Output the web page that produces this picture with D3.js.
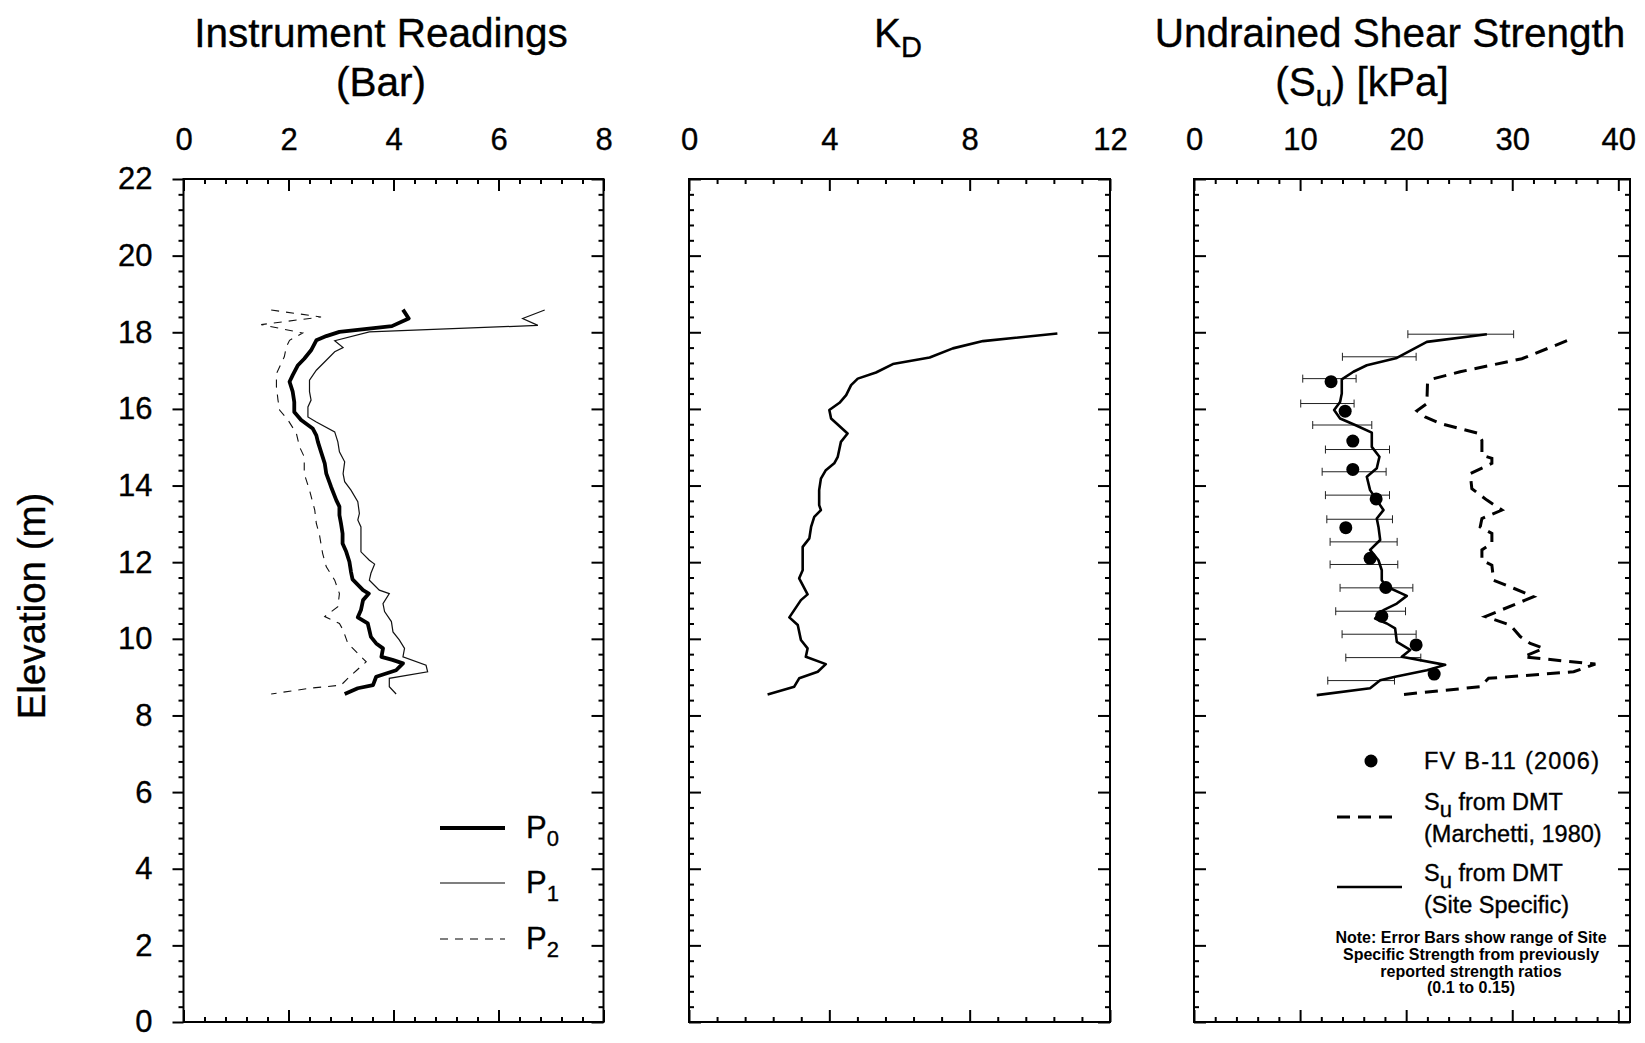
<!DOCTYPE html>
<html>
<head>
<meta charset="utf-8">
<script src="https://cdn.jsdelivr.net/npm/d3@7"></script>
<style>
  body { margin: 0; background: #fff; }
  svg { display: block; }
  text { font-family: "Liberation Sans", Arial, sans-serif; fill: #000; stroke: #000; stroke-width: 0.35px; }
  text.note { stroke-width: 0; }
</style>
</head>
<body>
<svg id="chart" width="1645" height="1043"></svg>
<script>
// ---- axis ticks ----
const elevTicks = [0, 2, 4, 6, 8, 10, 12, 14, 16, 18, 20, 22];
const barTicks = [0, 2, 4, 6, 8];
const kdTicks = [0, 4, 8, 12];
const suTicks = [0, 10, 20, 30, 40];

// ---- instrument readings, [elevation m, reading bar] ----
const p0 = [[18.59,4.18],[18.36,4.29],[18.16,3.97],[18.01,2.97],[17.90,2.72],[17.79,2.53],[17.53,2.43],[17.31,2.30],[17.14,2.18],[16.88,2.08],[16.71,2.02],[16.45,2.08],[16.18,2.11],[15.92,2.11],[15.71,2.24],[15.49,2.46],[15.31,2.53],[15.14,2.56],[14.88,2.62],[14.58,2.69],[14.31,2.72],[13.97,2.81],[13.62,2.91],[13.45,2.97],[13.23,2.97],[13.01,3.00],[12.75,3.03],[12.49,3.03],[12.27,3.10],[12.01,3.16],[11.75,3.19],[11.55,3.22],[11.27,3.42],[11.18,3.53],[11.01,3.42],[10.75,3.38],[10.56,3.32],[10.40,3.51],[10.05,3.57],[9.88,3.67],[9.75,3.80],[9.53,3.77],[9.45,3.98],[9.36,4.18],[9.18,4.05],[9.01,3.67],[8.79,3.61],[8.71,3.32],[8.56,3.07]];
const p1 = [[18.58,6.88],[18.36,6.46],[18.18,6.75],[18.01,3.54],[17.78,2.88],[17.60,3.04],[17.49,2.88],[17.27,2.72],[17.01,2.53],[16.75,2.40],[16.45,2.40],[16.23,2.43],[16.05,2.37],[15.79,2.37],[15.66,2.53],[15.40,2.88],[15.14,2.94],[14.88,2.97],[14.62,3.07],[14.31,3.04],[14.10,3.07],[13.88,3.19],[13.58,3.32],[13.27,3.35],[13.10,3.32],[12.92,3.38],[12.62,3.38],[12.27,3.38],[12.05,3.54],[11.95,3.64],[11.71,3.57],[11.53,3.54],[11.27,3.73],[11.18,3.92],[10.92,3.80],[10.71,3.83],[10.45,3.96],[10.18,3.99],[9.97,4.11],[9.75,4.21],[9.53,4.18],[9.31,4.62],[9.14,4.65],[8.97,3.92],[8.75,3.92],[8.56,4.05]];
const p2 = [[18.58,1.67],[18.40,2.62],[18.20,1.48],[17.98,2.27],[17.79,2.02],[17.62,1.96],[17.36,1.92],[16.92,1.77],[16.58,1.77],[16.23,1.80],[15.97,1.83],[15.71,1.99],[15.36,2.15],[15.01,2.21],[14.75,2.30],[14.31,2.30],[13.88,2.40],[13.36,2.50],[13.01,2.53],[12.71,2.59],[12.23,2.65],[11.88,2.72],[11.53,2.88],[11.18,2.97],[10.84,2.94],[10.58,2.69],[10.40,2.97],[10.23,3.04],[9.88,3.13],[9.62,3.32],[9.40,3.48],[9.18,3.30],[9.01,3.16],[8.79,3.00],[8.71,2.40],[8.56,1.67]];

// ---- horizontal stress index, [elevation m, KD] ----
const kd = [[17.97,10.50],[17.77,8.38],[17.58,7.52],[17.34,6.86],[17.17,5.81],[16.95,5.33],[16.79,4.81],[16.62,4.62],[16.36,4.48],[16.16,4.29],[15.97,4.00],[15.75,4.05],[15.36,4.52],[15.14,4.33],[14.75,4.24],[14.58,4.14],[14.40,3.90],[14.18,3.76],[13.88,3.71],[13.49,3.71],[13.36,3.76],[13.18,3.57],[12.92,3.48],[12.62,3.43],[12.40,3.24],[11.79,3.24],[11.58,3.14],[11.16,3.38],[11.01,3.19],[10.56,2.86],[10.36,3.10],[9.97,3.19],[9.75,3.38],[9.53,3.33],[9.34,3.90],[9.14,3.67],[8.97,3.14],[8.75,3.00],[8.55,2.24]];

// ---- undrained shear strength, [elevation m, Su kPa] ----
const suSite = [[17.95,27.61],[17.75,21.95],[17.33,19.12],[17.14,16.29],[16.97,15.03],[16.77,13.93],[16.40,13.93],[16.18,13.77],[15.97,13.21],[15.75,13.77],[15.58,15.19],[15.38,16.76],[15.01,16.76],[14.75,17.48],[14.45,17.23],[14.23,16.29],[13.88,16.60],[13.62,17.23],[13.36,17.86],[13.14,17.23],[12.92,17.39],[12.58,17.55],[12.32,16.60],[12.05,17.39],[11.79,17.70],[11.53,17.70],[11.36,18.18],[11.12,20.06],[10.92,19.12],[10.75,17.86],[10.53,17.08],[10.40,18.18],[10.27,18.96],[9.92,19.12],[9.71,20.38],[9.53,19.59],[9.32,23.68],[9.18,21.95],[9.01,18.96],[8.92,17.55],[8.71,16.60],[8.53,11.57]];
const suMarchetti = [[17.78,35.16],[17.31,30.91],[16.97,25.09],[16.79,22.58],[16.66,22.01],[16.14,21.95],[15.95,21.01],[15.79,21.79],[15.62,23.21],[15.36,26.82],[15.18,27.14],[14.79,27.14],[14.71,28.08],[14.58,28.08],[14.31,26.04],[13.92,26.19],[13.62,27.61],[13.36,29.03],[13.14,27.14],[12.92,26.98],[12.75,28.08],[12.49,28.08],[12.32,27.14],[12.05,27.14],[11.92,28.08],[11.53,28.24],[11.32,30.13],[11.10,32.01],[10.58,27.45],[10.36,29.81],[10.06,30.75],[9.88,31.70],[9.75,32.96],[9.53,31.07],[9.34,37.83],[9.14,35.79],[8.97,27.77],[8.75,26.98],[8.53,19.12]];
// site specific strength range for ratios 0.1 to 0.15, [elevation m, low, high]
const suRange = [[17.95,20.16,30.13],[17.36,13.99,20.94],[16.79,10.25,15.28],[16.14,10.06,15.09],[15.58,11.19,16.76],[14.94,12.39,18.43],[14.36,12.08,18.11],[13.75,12.39,18.43],[13.12,12.52,18.71],[12.53,12.83,19.15],[11.94,12.83,19.21],[11.33,13.77,20.63],[10.72,13.36,19.94],[10.12,13.96,20.94],[9.51,14.31,21.38],[8.91,12.61,18.90]];
// field vane, boring B-11 (2006), [elevation m, Su kPa]
const fieldVane = [[16.71,12.92],[15.94,14.25],[15.16,14.97],[14.42,14.97],[13.65,17.17],[12.90,14.31],[12.10,16.60],[11.34,18.08],[10.59,17.70],[9.84,20.94],[9.08,22.64]];

// ---- layout ----
const svg = d3.select("#chart");
const Y_TOP = 179, Y_BOT = 1022;
const y = d3.scaleLinear().domain([0, 22]).range([Y_BOT, Y_TOP]);
const xBar = d3.scaleLinear().domain([0, 8]).range([183.5, 603.5]);
const xKd = d3.scaleLinear().domain([0, 12]).range([689, 1110]);
const xSu = d3.scaleLinear().domain([0, 41.1]).range([1194, 1630]);

// minor ticks: five intervals between labelled ticks
function minors(step, max) {
  const n = Math.round(max / step);
  return d3.range(0, n + 1).filter(i => i % 5 !== 0).map(i => +(i * step).toFixed(3));
}
const elevMinor = minors(0.4, 22);

function styleTicks(g, width) {
  g.select(".domain").remove();
  g.selectAll(".tick line").attr("stroke", "#000").attr("stroke-width", width);
}

function panel(x, majors, minorVals, leftOutward) {
  const [x0, x1] = x.range();
  const g = svg.append("g");

  // top axis: inward ticks + labels
  g.append("g").attr("transform", `translate(0,${Y_TOP})`)
    .call(d3.axisTop(x).tickValues(majors).tickSize(-12).tickFormat(""))
    .call(s => styleTicks(s, 2));
  g.append("g").attr("transform", `translate(0,${Y_TOP})`)
    .call(d3.axisTop(x).tickValues(minorVals).tickSize(-5).tickFormat(""))
    .call(s => styleTicks(s, 2));
  g.append("g").attr("transform", `translate(0,${Y_TOP})`)
    .call(d3.axisTop(x).tickValues(majors).tickSize(0).tickPadding(29).tickFormat(d3.format("d")))
    .call(s => { s.select(".domain").remove(); s.selectAll(".tick line").remove(); })
    .attr("font-size", 31).attr("font-family", null)
    .selectAll("text").attr("fill", "#000");

  // bottom axis: inward ticks
  g.append("g").attr("transform", `translate(0,${Y_BOT})`)
    .call(d3.axisBottom(x).tickValues(majors).tickSize(-12).tickFormat(""))
    .call(s => styleTicks(s, 2));
  g.append("g").attr("transform", `translate(0,${Y_BOT})`)
    .call(d3.axisBottom(x).tickValues(minorVals).tickSize(-5).tickFormat(""))
    .call(s => styleTicks(s, 2));

  // left axis
  const sgn = leftOutward ? 1 : -1;
  g.append("g").attr("transform", `translate(${x0},0)`)
    .call(d3.axisLeft(y).tickValues(elevTicks).tickSize(leftOutward ? 11 : -12).tickFormat(""))
    .call(s => styleTicks(s, 2));
  g.append("g").attr("transform", `translate(${x0},0)`)
    .call(d3.axisLeft(y).tickValues(elevMinor).tickSize(5 * sgn).tickFormat(""))
    .call(s => styleTicks(s, 2));

  // right axis: inward ticks
  g.append("g").attr("transform", `translate(${x1},0)`)
    .call(d3.axisRight(y).tickValues(elevTicks).tickSize(-12).tickFormat(""))
    .call(s => styleTicks(s, 2));
  g.append("g").attr("transform", `translate(${x1},0)`)
    .call(d3.axisRight(y).tickValues(elevMinor).tickSize(-5).tickFormat(""))
    .call(s => styleTicks(s, 2));

  // frame
  g.append("rect")
    .attr("x", x0).attr("y", Y_TOP)
    .attr("width", x1 - x0).attr("height", Y_BOT - Y_TOP)
    .attr("fill", "none").attr("stroke", "#000").attr("stroke-width", 2);
  return g;
}

const g1 = panel(xBar, barTicks, minors(0.4, 8), true);
const g2 = panel(xKd, kdTicks, minors(0.8, 12), false);
const g3 = panel(xSu, suTicks, minors(2, 40), false);

// elevation labels on the first panel
svg.append("g").attr("transform", `translate(${xBar.range()[0]},0)`)
  .call(d3.axisLeft(y).tickValues(elevTicks).tickSize(0).tickPadding(31).tickFormat(d3.format("d")))
  .call(s => { s.select(".domain").remove(); s.selectAll(".tick line").remove(); })
  .attr("font-size", 31).attr("font-family", null)
  .selectAll("text").attr("fill", "#000");

svg.append("text")
  .attr("transform", "translate(45,606) rotate(-90)")
  .attr("text-anchor", "middle")
  .attr("font-size", 38.5)
  .text("Elevation (m)");

// ---- titles ----
function title(cx, yb, parts) {
  const t = svg.append("text").attr("x", cx).attr("y", yb)
    .attr("text-anchor", "middle").attr("font-size", 40.5);
  parts.forEach(p => {
    const ts = t.append("tspan").text(p.t);
    if (p.sub) ts.attr("font-size", 29).attr("dy", 10);
    else if (p.after) ts.attr("dy", -10);
  });
}
title(381, 47, [{ t: "Instrument Readings" }]);
title(381, 96, [{ t: "(Bar)" }]);
title(898, 47, [{ t: "K" }, { t: "D", sub: true }]);
title(1390, 47, [{ t: "Undrained Shear Strength" }]);
title(1362, 96, [{ t: "(S" }, { t: "u", sub: true }, { t: ") [kPa]", after: true }]);

// ---- panel 1: instrument readings ----
const lineBar = d3.line().x(d => xBar(d[1])).y(d => y(d[0]));
g1.append("path").datum(p2).attr("d", lineBar)
  .attr("fill", "none").attr("stroke", "#111").attr("stroke-width", 1.1).attr("stroke-dasharray", "8,7");
g1.append("path").datum(p1).attr("d", lineBar)
  .attr("fill", "none").attr("stroke", "#111").attr("stroke-width", 1.2);
g1.append("path").datum(p0).attr("d", lineBar)
  .attr("fill", "none").attr("stroke", "#000").attr("stroke-width", 3.8).attr("stroke-linejoin", "round");

// legend
const legend1 = [
  { name: "0", w: 3.8, dash: null, yy: 828 },
  { name: "1", w: 1.2, dash: null, yy: 883 },
  { name: "2", w: 1.1, dash: "8,7", yy: 939 }
];
legend1.forEach(d => {
  g1.append("line").attr("x1", 440).attr("x2", 505).attr("y1", d.yy).attr("y2", d.yy)
    .attr("stroke", "#000").attr("stroke-width", d.w).attr("stroke-dasharray", d.dash);
  const t = g1.append("text").attr("x", 526).attr("y", d.yy + 10).attr("font-size", 31);
  t.append("tspan").text("P");
  t.append("tspan").text(d.name).attr("font-size", 22).attr("dy", 8);
});

// ---- panel 2: KD ----
const lineKd = d3.line().x(d => xKd(d[1])).y(d => y(d[0]));
g2.append("path").datum(kd).attr("d", lineKd)
  .attr("fill", "none").attr("stroke", "#000").attr("stroke-width", 2.6).attr("stroke-linejoin", "round");

// ---- panel 3: undrained shear strength ----
const lineSu = d3.line().x(d => xSu(d[1])).y(d => y(d[0]));
const bars = g3.append("g").attr("stroke", "#222").attr("stroke-width", 1);
bars.selectAll("line.range").data(suRange).join("line").attr("class", "range")
  .attr("x1", d => xSu(d[1])).attr("x2", d => xSu(d[2]))
  .attr("y1", d => y(d[0])).attr("y2", d => y(d[0]));
bars.selectAll("line.capLo").data(suRange).join("line").attr("class", "capLo")
  .attr("x1", d => xSu(d[1])).attr("x2", d => xSu(d[1]))
  .attr("y1", d => y(d[0]) - 4).attr("y2", d => y(d[0]) + 4);
bars.selectAll("line.capHi").data(suRange).join("line").attr("class", "capHi")
  .attr("x1", d => xSu(d[2])).attr("x2", d => xSu(d[2]))
  .attr("y1", d => y(d[0]) - 4).attr("y2", d => y(d[0]) + 4);

g3.append("path").datum(suMarchetti).attr("d", lineSu)
  .attr("fill", "none").attr("stroke", "#000").attr("stroke-width", 3).attr("stroke-dasharray", "13,8");
g3.append("path").datum(suSite).attr("d", lineSu)
  .attr("fill", "none").attr("stroke", "#000").attr("stroke-width", 2.6).attr("stroke-linejoin", "round");
g3.selectAll("circle.fv").data(fieldVane).join("circle").attr("class", "fv")
  .attr("cx", d => xSu(d[1])).attr("cy", d => y(d[0])).attr("r", 6.5).attr("fill", "#000");

// legend
g3.append("circle").attr("cx", 1371).attr("cy", 761).attr("r", 6.5).attr("fill", "#000");
g3.append("text").attr("x", 1424).attr("y", 769).attr("font-size", 23.5)
  .attr("textLength", 175).attr("lengthAdjust", "spacing").text("FV B-11 (2006)");

g3.append("line").attr("x1", 1337).attr("x2", 1393).attr("y1", 817).attr("y2", 817)
  .attr("stroke", "#000").attr("stroke-width", 3).attr("stroke-dasharray", "13,8");
g3.append("line").attr("x1", 1337).attr("x2", 1402).attr("y1", 887).attr("y2", 887)
  .attr("stroke", "#000").attr("stroke-width", 2.6);

function suLabel(yb, second) {
  const t = g3.append("text").attr("x", 1424).attr("y", yb).attr("font-size", 23.5);
  t.append("tspan").text("S");
  t.append("tspan").text("u").attr("font-size", 22).attr("dy", 7);
  t.append("tspan").text(" from DMT").attr("dy", -7);
  g3.append("text").attr("x", 1424).attr("y", yb + 32).attr("font-size", 23.5).text(second);
}
suLabel(810, "(Marchetti, 1980)");
suLabel(881, "(Site Specific)");

const note = [
  "Note: Error Bars show range of Site",
  "Specific Strength from previously",
  "reported strength ratios",
  "(0.1 to 0.15)"
];
g3.append("g").selectAll("text").data(note).join("text").attr("class", "note")
  .attr("x", 1471).attr("y", (d, i) => 943 + i * 16.8)
  .attr("text-anchor", "middle").attr("font-size", 16).attr("font-weight", "bold")
  .text(d => d);
</script>
</body>
</html>
